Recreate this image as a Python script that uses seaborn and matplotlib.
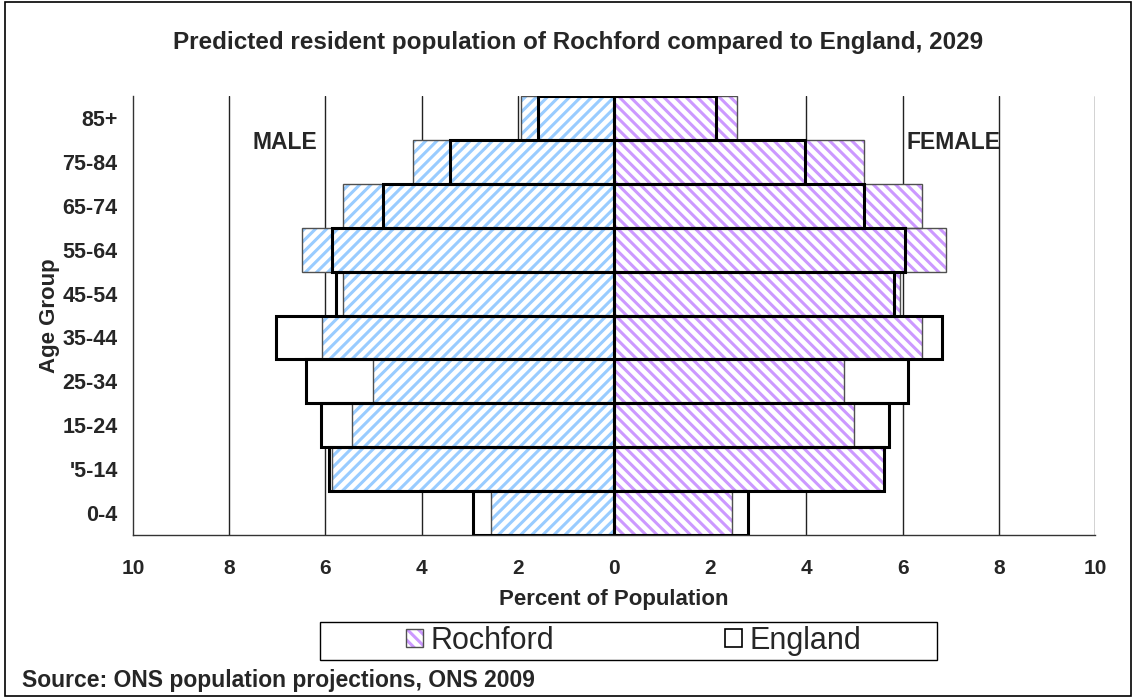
import pandas as pd
import seaborn as sns
import matplotlib.pyplot as plt
from matplotlib.patches import Patch, Rectangle
from matplotlib.legend_handler import HandlerTuple

# age bands, top of the chart first
age_groups = ['85+', '75-84', '65-74', '55-64', '45-54', '35-44', '25-34', '15-24', "'5-14", '0-4']

# percent of population
rochford_male = [1.93, 4.17, 5.64, 6.49, 5.63, 6.08, 5.01, 5.45, 5.86, 2.56]
rochford_female = [2.56, 5.20, 6.40, 6.90, 5.95, 6.40, 4.79, 4.99, 5.61, 2.45]
england_male = [1.57, 3.41, 4.81, 5.87, 5.79, 7.03, 6.41, 6.09, 5.92, 2.93]
england_female = [2.13, 3.98, 5.20, 6.04, 5.82, 6.81, 6.12, 5.72, 5.62, 2.78]

# long table, males as negative values
rows = []
for i, age in enumerate(age_groups):
    rows.append(('Rochford', 'Male', age, -rochford_male[i]))
    rows.append(('Rochford', 'Female', age, rochford_female[i]))
    rows.append(('England', 'Male', age, -england_male[i]))
    rows.append(('England', 'Female', age, england_female[i]))
df = pd.DataFrame(rows, columns=['area', 'sex', 'age', 'pct'])

sns.set_style('white')
plt.rcParams['font.family'] = ['Liberation Sans', 'DejaVu Sans']
plt.rcParams['hatch.linewidth'] = 2.2

fig = plt.figure(figsize=(11.35, 6.98), dpi=100)
ax = fig.add_axes([133 / 1135, 1 - 535 / 698, 962 / 1135, 439 / 698])

blue = '#99CCFF'
purple = '#CC99FF'

eng = df[df.area == 'England']
roch = df[df.area == 'Rochford']

# England underneath with white fill
for sex in ['Male', 'Female']:
    sns.barplot(data=eng[eng.sex == sex], x='pct', y='age', order=age_groups, orient='h',
                width=1.0, color='white', edgecolor='none', linewidth=0, errorbar=None,
                ax=ax, zorder=2)

# Rochford hatched bars
n_before = len(ax.patches)
for sex, col, hatch in [('Male', blue, '///'), ('Female', purple, '\\\\\\')]:
    sns.barplot(data=roch[roch.sex == sex], x='pct', y='age', order=age_groups, orient='h',
                width=1.0, color='white', errorbar=None, ax=ax, zorder=3)
    for p in ax.patches[n_before:]:
        p.set_hatch(hatch)
        p.set_edgecolor(col)
        p.set_linewidth(0)
    n_before = len(ax.patches)

# Rochford thin grey outline
for sex in ['Male', 'Female']:
    sns.barplot(data=roch[roch.sex == sex], x='pct', y='age', order=age_groups, orient='h',
                width=1.0, fill=False, edgecolor='#505050', linewidth=1.0, errorbar=None,
                ax=ax, zorder=4)

# England thick black outline on top
for sex in ['Male', 'Female']:
    sns.barplot(data=eng[eng.sex == sex], x='pct', y='age', order=age_groups, orient='h',
                width=1.0, fill=False, edgecolor='black', linewidth=2.2, errorbar=None,
                ax=ax, zorder=5)

ax.set_xlim(-10, 10)
ax.set_ylim(9.5, -0.5)
ticks = list(range(-10, 11, 2))
ax.set_xticks(ticks)
ax.set_xticklabels([str(abs(t)) for t in ticks], fontsize=15, fontweight='bold')
ax.set_yticklabels(age_groups, fontsize=15.5, fontweight='bold')
for t in ticks:
    if t not in (-10, 0):
        ax.axvline(t, color='#222222', linewidth=1.0, zorder=1)
ax.axvline(0, color='black', linewidth=1.2, zorder=6)

ax.tick_params(axis='x', direction='out', length=5, width=1, color='#333333', pad=12)
ax.tick_params(axis='y', length=0, pad=11)
for s in ['top', 'right']:
    ax.spines[s].set_visible(False)
for s in ['left', 'bottom']:
    ax.spines[s].set_color('#333333')
    ax.spines[s].set_linewidth(1.0)

ax.set_xlabel('Percent of Population', fontsize=16, fontweight='bold', labelpad=8)
ax.set_ylabel('Age Group', fontsize=16, fontweight='bold', labelpad=2)

ax.text(-6.85, 0.55, 'MALE', fontsize=16.5, fontweight='bold', ha='center', va='center')
ax.text(7.05, 0.55, 'FEMALE', fontsize=16.5, fontweight='bold', ha='center', va='center')

fig.text(578 / 1135, 1 - 42 / 698, 'Predicted resident population of Rochford compared to England, 2029',
         fontsize=17.5, fontweight='bold', ha='center', va='center')
fig.text(22 / 1135, 1 - 680 / 698, 'Source: ONS population projections, ONS 2009',
         fontsize=16.5, fontweight='bold', ha='left', va='center')

# legend box
fig.patches.append(Rectangle((320 / 1135, 1 - 660 / 698), 617 / 1135, 38 / 698,
                             transform=fig.transFigure, fill=False, edgecolor='black', linewidth=1.0))
roch_handle = (Patch(facecolor='white', edgecolor=purple, hatch='\\\\\\', linewidth=0),
               Patch(facecolor='none', edgecolor='#505050', linewidth=1.0))
eng_handle = Patch(facecolor='white', edgecolor='black', linewidth=1.2)
leg = fig.legend([roch_handle, eng_handle], ['Rochford', 'England'], loc='center', ncol=2,
                 bbox_to_anchor=(634 / 1135, 1 - 641 / 698), frameon=False,
                 fontsize=22, handlelength=0.55, handleheight=0.55, handletextpad=0.25,
                 columnspacing=5.6, handler_map={tuple: HandlerTuple(ndivide=1, pad=0)})

# chart border
fig.patches.append(Rectangle((5 / 1135, 2 / 698), 1126 / 1135, 694 / 698,
                             transform=fig.transFigure, fill=False, edgecolor='black', linewidth=1.2))

fig.savefig('out.png', dpi=100)
